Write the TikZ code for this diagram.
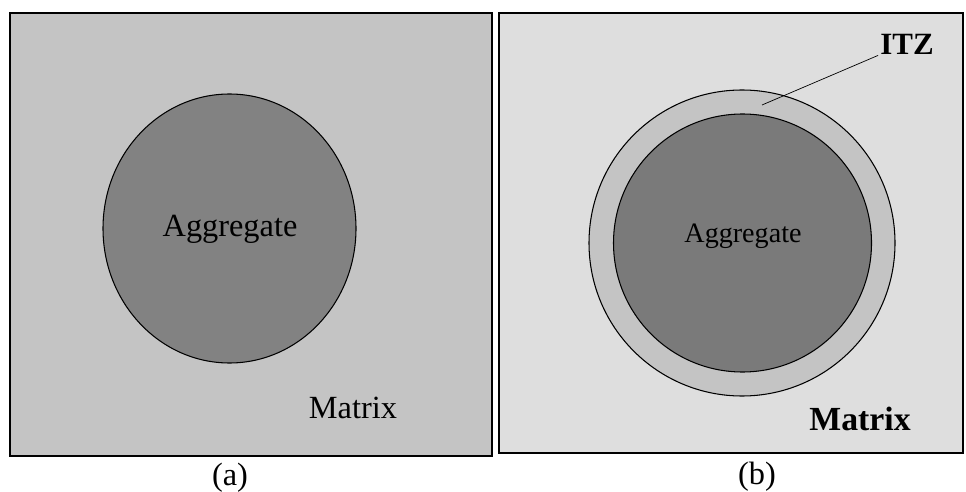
\documentclass[tikz,border=0pt]{standalone}
\usepackage{fontspec}
\setmainfont{Liberation Serif}
\usetikzlibrary{positioning}

\definecolor{matrixA}{RGB}{196,196,196}
\definecolor{grainA}{RGB}{130,130,130}
\definecolor{matrixB}{RGB}{222,222,222}
\definecolor{zoneB}{RGB}{196,196,196}
\definecolor{grainB}{RGB}{122,122,122}

\begin{document}
\begin{tikzpicture}[
  x=0.025cm, y=-0.025cm,
  panel/.style={draw, line width=0.9pt},
  grain/.style={draw, line width=0.75pt},
  lbl/.style={inner sep=0pt, font=\fontsize{23}{26}\selectfont},
  lblsmall/.style={inner sep=0pt, font=\fontsize{20}{23}\selectfont}
]
\useasboundingbox (0,0) rectangle (966,492);
\fill[white] (0,0) rectangle (966,492);

% (a) aggregate in matrix
\draw[panel, fill=matrixA] (10,13) rectangle (492,456);
\draw[grain, fill=grainA] (229.5,228.5) ellipse [x radius=126.5, y radius=134.5];
\node[lbl] (aggA) at (230,229) {Aggregate};
\node[lbl] (matA) at (353,408) {Matrix};
\node[lbl] (capA) at (230,478) {(a)};

% (b) aggregate, ITZ and matrix
\draw[panel, fill=matrixB] (499,13) rectangle (963,453);
\draw[grain, fill=zoneB] (742,243) circle [radius=153];
\draw[grain, fill=grainB] (742.5,243) circle [radius=129];
\node[lblsmall] (aggB) at (743,236) {Aggregate};
\node[lbl, font=\fontsize{24}{27}\selectfont\bfseries] (matB) at (860,419) {Matrix};
\node[lbl, font=\fontsize{22}{25}\selectfont\bfseries] (itz) at (907,44) {ITZ};
\node[lbl] (capB) at (757,477) {(b)};
\coordinate (itzpt) at (762,105);
\draw[line width=0.5pt] (itz.south west) ++(-2,1) coordinate (itzend) (itzend) -- (itzpt);
\end{tikzpicture}
\end{document}
